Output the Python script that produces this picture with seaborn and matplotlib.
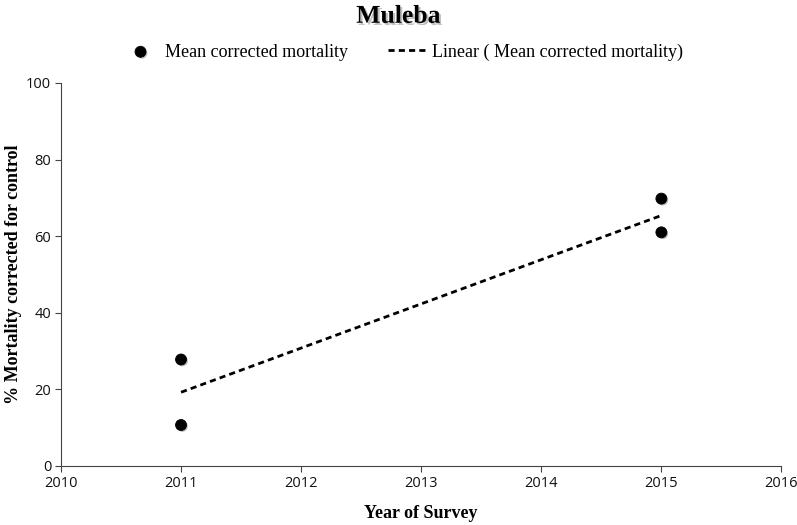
import numpy as np
import pandas as pd
import matplotlib
matplotlib.use("Agg")
import matplotlib.pyplot as plt
import matplotlib.patheffects as pe
import seaborn as sns

# datos
years = [2011, 2011, 2015, 2015]
mortality = [27.8, 10.7, 69.8, 61.0]

df = pd.DataFrame({"Year": years, "Mortality": mortality})

# linea de tendencia (regresion lineal)
slope, intercept = np.polyfit(df["Year"], df["Mortality"], 1)
trend_x = np.array([df["Year"].min(), df["Year"].max()])
trend = pd.DataFrame({"Year": trend_x, "Fit": slope * trend_x + intercept})

sns.set_style("ticks")
serif = ["Liberation Serif", "DejaVu Serif"]
sansf = ["Open Sans", "DejaVu Sans"]

fig = plt.figure(figsize=(7.97, 5.25), dpi=100)
ax = fig.add_axes([0.0765, 0.1124, 0.904, 0.7296])

sns.scatterplot(data=df, x="Year", y="Mortality", ax=ax, color="black", s=62,
                edgecolor="black", label="Mean corrected mortality", zorder=3,
                path_effects=[pe.SimplePatchShadow(offset=(1, -1), alpha=0.25), pe.Normal()])
sns.lineplot(data=trend, x="Year", y="Fit", ax=ax, color="black", linestyle="--",
             linewidth=2, dashes=False, label="Linear ( Mean corrected mortality)")
ax.get_lines()[-1].set_dashes((2.2, 1.5))

ax.set_xlim(2010, 2016)
ax.set_ylim(0, 100)
ax.set_xticks(range(2010, 2017))
ax.set_yticks(range(0, 101, 20))
for lab in ax.get_xticklabels() + ax.get_yticklabels():
    lab.set_fontfamily(sansf)
    lab.set_fontsize(10.5)
    lab.set_color("#111111")
ax.tick_params(axis="both", length=4, width=0.8, color="#444444", pad=3)
sns.despine(ax=ax)
ax.spines["left"].set_color("#444444")
ax.spines["bottom"].set_color("#444444")

ax.set_xlabel("Year of Survey", fontfamily=serif, fontsize=13, fontweight="bold",
              labelpad=10, color="black")
ax.set_ylabel("% Mortality corrected for control", fontfamily=serif, fontsize=13,
              fontweight="bold", labelpad=3, color="black")

fig.text(0.5, 0.969, "Muleba", ha="center", va="center", fontfamily=serif,
         fontsize=18.5, fontweight="bold", color="black",
         path_effects=[pe.withSimplePatchShadow(offset=(1.5, -1.5), shadow_rgbFace="gray", alpha=0.5)])

leg = ax.legend(loc="center", bbox_to_anchor=(0.473, 1.081), ncol=2, frameon=False,
                prop={"family": serif, "size": 13}, handlelength=2.2, columnspacing=2.2,
                handletextpad=0.25)
for t in leg.get_texts():
    t.set_color("black")

fig.savefig("out.png", dpi=100)
